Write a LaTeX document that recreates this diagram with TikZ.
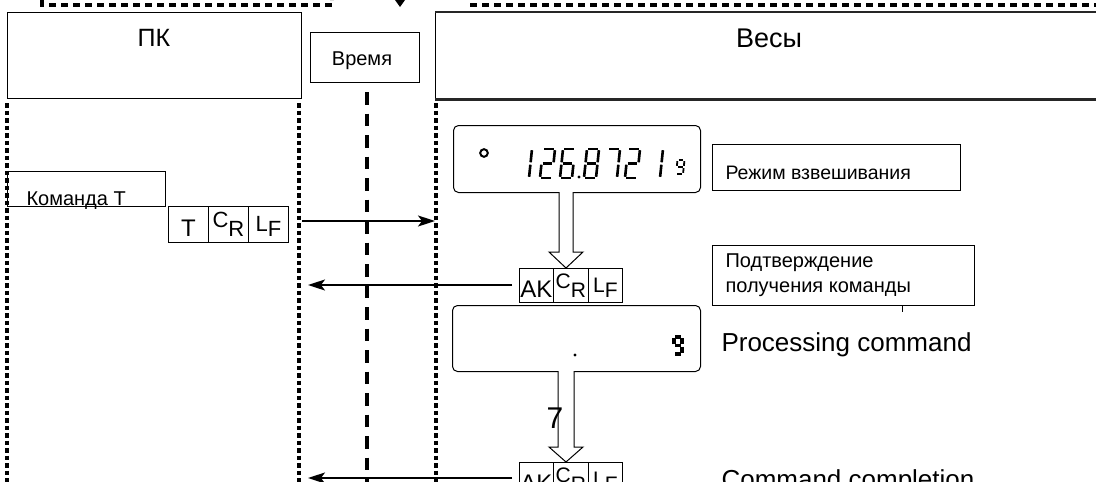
\documentclass[tikz,border=0pt]{standalone}
\usepackage{fontspec}
\setmainfont{Liberation Sans}
\usetikzlibrary{arrows.meta}
\newcommand{\fs}[1]{\fontsize{#1}{#1}\selectfont}
% seven-segment digit: x, baseline y, width, height, slant, line width, segment list
\newcommand{\lcd}[7]{\begin{scope}[shift={(#1,#2)}, x={(#3pt,0pt)}, y={(#5pt,#4pt)}]
  \foreach \ua/\ub/\uc/\ud in #7 {\draw[line width=#6pt, shorten <=1.2pt, shorten >=1.2pt] (\ua,\ub) -- (\uc,\ud);}
\end{scope}}
\def\dOne{1/1/1/0.5,1/0.5/1/0}
\def\dTwo{0/1/1/1,1/1/1/0.5,0/0.5/1/0.5,0/0/0/0.5,0/0/1/0}
\def\dSix{0/1/1/1,0/0.5/0/1,0/0.5/1/0.5,0/0/0/0.5,0/0/1/0,1/0.5/1/0}
\def\dEight{0/1/1/1,1/1/1/0.5,1/0.5/1/0,0/0/1/0,0/0/0/0.5,0/0.5/0/1,0/0.5/1/0.5}
\def\dSeven{0/1/1/1,1/1/1/0.5,1/0.5/1/0}
\def\dNine{0/1/1/1,1/1/1/0.5,1/0.5/1/0,0/0/1/0,0/0.5/0/1,0/0.5/1/0.5}
\begin{document}
\begin{tikzpicture}[x=1pt,y=-1pt,
  lbox/.style={draw, line width=1.4pt, inner sep=0pt, anchor=north west},
  tbox/.style={draw, line width=1.2pt, inner sep=0pt, anchor=north west},
  cell/.style={draw, line width=0.8pt, inner sep=0pt, anchor=north west, text height=25pt, text depth=0pt},
  life/.style={line width=3.6pt, dash pattern=on 4.5pt off 3pt},
  timeline/.style={line width=3.6pt, dash pattern=on 12.5pt off 9pt},
  topline/.style={line width=3.4pt, dash pattern=on 7pt off 5pt},
  msg/.style={line width=1.6pt, -{Stealth[length=17pt,width=11pt,inset=4pt]}},
  lcdbox/.style={draw, line width=1pt, rounded corners=5pt, inner sep=0pt, anchor=north west},
  hollow/.style={draw, line width=1pt, fill=white},
]
\useasboundingbox (0,0) rectangle (1096,482);

% top dashed frame pieces
\draw[topline] (42,0) -- (42,5) -- (332,5) -- (332,0);
\draw[topline] (470,5) -- (1096,5);
\fill (395,0) -- (405,0) -- (400,7) -- cycle;

% headers
\node[lbox, minimum width=294pt, minimum height=86pt] (pc) at (7,12) {};
\node[font=\fs{25}] (pct) at (154,38) {ПК};
\node[tbox, minimum width=109pt, minimum height=50pt] (tm) at (310,32) {};
\node[font=\fs{20}] (tmt) at (362,61) {Время};
\node[lbox, minimum width=670pt, minimum height=86pt] (sc) at (435,12) {};
\draw[line width=2.8pt, black!85] (sc.north west) -- (sc.north east);
\draw[line width=2.8pt, black!85] (sc.south west) -- (sc.south east);
\node[font=\fs{27}] (sct) at (769,38) {Весы};

% lifelines
\coordinate (l1a) at (7,103);   \coordinate (l1b) at (7,482);
\coordinate (l2a) at (299,103); \coordinate (l2b) at (299,482);
\coordinate (l3a) at (367,92);  \coordinate (l3b) at (367,482);
\coordinate (l4a) at (436,103); \coordinate (l4b) at (436,482);
\draw[life] (l1a) -- (l1b);
\draw[life] (l2a) -- (l2b);
\draw[timeline] (l3a) -- (l3b);
\draw[life] (l4a) -- (l4b);

% command T
\node[tbox, minimum width=158pt, minimum height=35pt] (cmd) at (7,171) {};
\node[font=\fs{20}, anchor=base west] (cmdt) at (23,205) {Команда T};
\node[cell, minimum width=40pt, minimum height=36pt, font=\fs{24}] (t1) at (168,206) {T};
\node[cell, minimum width=40pt, minimum height=36pt, font=\fs{22}] (t2) at (208,206) {\raisebox{9pt}{C}R};
\node[cell, minimum width=40pt, minimum height=36pt, font=\fs{22}] (t3) at (248,206) {\raisebox{5pt}{L}F};

\coordinate (m1s) at (302,221); \coordinate (m1e) at (435,221);
\draw[msg] (m1s) -- (m1e);

% display 1
\node[lcdbox, minimum width=247pt, minimum height=67pt] (d1) at (453,125) {};
\draw[line width=2pt] (484,153) circle (3.8pt);
\lcd{517}{178}{12}{29}{3}{2.6}{\dOne}
\lcd{540}{178}{12}{29}{3}{2.6}{\dTwo}
\lcd{560}{178}{12}{29}{3}{2.6}{\dSix}
\fill (579,177) circle (1.6pt);
\lcd{584}{178}{12}{29}{3}{2.6}{\dEight}
\lcd{605}{178}{12}{29}{3}{2.6}{\dSeven}
\lcd{625}{178}{12}{29}{3}{2.6}{\dTwo}
\lcd{648}{178}{12}{29}{3}{2.6}{\dOne}
\lcd{676}{174}{7}{14}{1.5}{1.8}{\dNine}

\node[tbox, minimum width=248pt, minimum height=46pt] (wm) at (712,144) {};
\node[font=\fs{19.5}, anchor=base west] (wmt) at (722,179) {Режим взвешивания};

% hollow arrow 1
\draw[hollow] (559,192) -- (559,252) -- (549,252) -- (566,268) -- (583,252) -- (573,252) -- (573,192);

% ack 1
\node[cell, minimum width=34pt, minimum height=34pt, font=\fs{24}] (a1) at (519,268) {AK};
\node[cell, minimum width=35pt, minimum height=34pt, font=\fs{21}] (a2) at (553,268) {\raisebox{9pt}{C}R};
\node[cell, minimum width=34pt, minimum height=34pt, font=\fs{21}] (a3) at (588,268) {\raisebox{5pt}{L}F};
\coordinate (m2s) at (512,285); \coordinate (m2e) at (308,285);
\draw[msg] (m2s) -- (m2e);

\node[tbox, minimum width=262pt, minimum height=60pt] (ack) at (712,245) {};
\node[font=\fs{20}, anchor=base west] (ackt1) at (722,267) {Подтверждение};
\node[font=\fs{20}, anchor=base west] (ackt2) at (722,292) {получения команды};
\draw[line width=1pt] (ack.south -| 902,0) -- ++(0,6);

% display 2
\node[lcdbox, minimum width=248pt, minimum height=66pt] (d2) at (452,305) {};
\fill (575,355) circle (1.6pt);
\lcd{674}{354}{8}{17}{0}{3.2}{\dNine}
\node[font=\fs{26}, anchor=base west] (proc) at (718,351) {Processing command};

% hollow arrow 2
\draw[hollow] (558,371) -- (558,447) -- (549,447) -- (566,462) -- (583,447) -- (574,447) -- (574,371);
\node[font=\fs{30}, anchor=base west] (seven) at (543,428) {7};

% ack 2
\node[cell, minimum width=34pt, minimum height=34pt, font=\fs{24}] (b1) at (519,462) {AK};
\node[cell, minimum width=35pt, minimum height=34pt, font=\fs{21}] (b2) at (553,462) {\raisebox{9pt}{C}R};
\node[cell, minimum width=34pt, minimum height=34pt, font=\fs{21}] (b3) at (588,462) {\raisebox{5pt}{L}F};
\coordinate (m3s) at (512,478); \coordinate (m3e) at (308,478);
\draw[msg] (m3s) -- (m3e);
\node[font=\fs{26}, anchor=base west] (done) at (718,488) {Command completion};
\end{tikzpicture}
\end{document}
